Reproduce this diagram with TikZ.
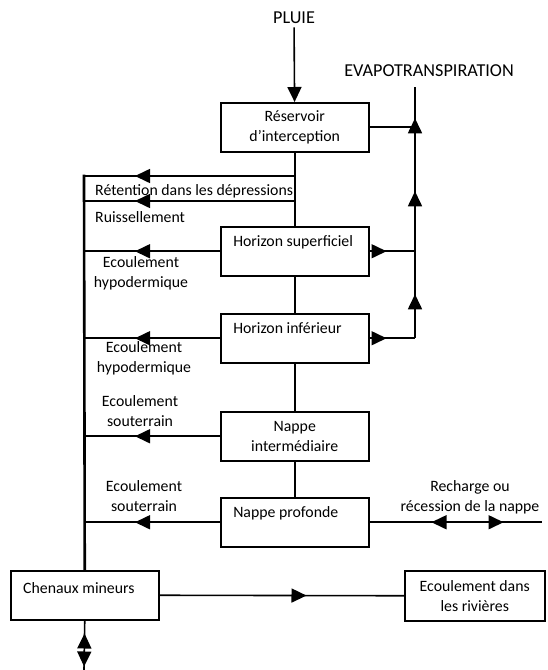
\documentclass[tikz,border=0pt]{standalone}
\usepackage{fontspec}
\setmainfont{Carlito}
\usetikzlibrary{positioning, arrows.meta, decorations.markings}
\tikzset{boite/.style={draw, line width=1.5pt, minimum width=148pt, minimum height=49pt, align=center, inner sep=3pt},
boite_g/.style={boite, align=flush left, text width=123pt, text height=12pt, text depth=22pt},
titre/.style={font=\fontsize{18.2}{22}\selectfont},
trait/.style={line width=1.6pt},
tete/.style={postaction={decorate}, decoration={markings, mark=at position #1 with {\arrow{>}}}},
lbl/.style={align=center, inner sep=0pt}}

\begin{document}
\begin{tikzpicture}[x=1pt, y=-1pt, >={Triangle[length=15pt, width=14pt]}, font=\fontsize{15.8}{19.8}\selectfont]
  \useasboundingbox (0,0) rectangle (547,670);
  % boites
  \node[titre] (pluie) at (294,18) {PLUIE};
  \node[titre] (evap) at (429,71) {EVAPOTRANSPIRATION};
  \node[boite, anchor=north west] (reserv) at (220,102) {Réservoir\\d’interception};
  \node[boite_g, anchor=north west] (hsup) at (220,226) {Horizon superficiel};
  \node[boite_g, anchor=north west] (hinf) at (220,313) {Horizon inférieur};
  \node[boite, anchor=north west] (ninter) at (220,411) {Nappe\\intermédiaire};
  \node[boite_g, anchor=north west] (nprof) at (220,497) {Nappe profonde};
  \node[boite_g, anchor=north west, text height=15pt, text depth=19pt] (chenaux) at (10,570) {Chenaux mineurs};
  \node[boite, anchor=north west, minimum width=140pt, minimum height=50pt] (rivieres) at (404,570) {Ecoulement dans\\les rivières};
  % points
  \coordinate (e_haut) at (415,87);
  \coordinate (e_bas) at (e_haut |- hinf.east);
  \coordinate (e_mid) at (e_haut |- hsup.east);
  \coordinate (e_top) at (e_haut |- reserv.east);
  \coordinate (r1) at (294,176);
  \coordinate (r2) at (294,201);
  \coordinate (g1) at (84,176);
  \coordinate (g2) at (84,201);
  \coordinate (c_bas) at (84,670);
  \path (nprof.east) ++(172,0) coordinate (rech);
  % etiquettes
  \node[lbl, anchor=west] (retention) at (95,191) {Rétention dans les dépressions};
  \node[lbl, anchor=west] (ruiss) at (95,217) {Ruissellement};
  \node[lbl] (hypo1) at (141,273) {Ecoulement\\hypodermique};
  \node[lbl] (hypo2) at (144,358) {Ecoulement\\hypodermique};
  \node[lbl] (sout1) at (140,411) {Ecoulement\\souterrain};
  \node[lbl] (sout2) at (144,496) {Ecoulement\\souterrain};
  \node[lbl] (recharge) at (470,497) {Recharge ou\\récession de la nappe};
  % fleches
  \draw[trait, ->] (pluie) -- (reserv);
  \draw[trait] (reserv) -- (hsup);
  \draw[trait] (hsup) -- (hinf);
  \draw[trait] (hinf) -- (ninter);
  \draw[trait] (ninter) -- (nprof);
  \draw[trait, tete=-51pt] (r1) -- (g1);
  \draw[trait, tete=-51pt] (r2) -- (g2);
  \draw[trait, tete=-51pt] (hsup.west) -- (hsup.west -| g1);
  \draw[trait, tete=-51pt] (hinf.west) -- (hinf.west -| g1);
  \draw[trait, tete=-51pt] (ninter.west) -- (ninter.west -| g1);
  \draw[trait, tete=-51pt] (nprof.west) -- (nprof.west -| g1);
  \draw[line width=2.6pt, line cap=rect] (g1) -- (chenaux.north);
  \draw[trait] (reserv.east) -- (e_top);
  \draw[trait, tete=17pt] (hsup.east) -- (e_mid);
  \draw[trait, tete=17pt] (hinf.east) -- (e_bas);
  \draw[trait, postaction={decorate}, decoration={markings,
    mark=at position 44pt with {\arrow{>}},
    mark=at position 147pt with {\arrow{>}},
    mark=at position 220pt with {\arrow{>}}}] (e_bas) -- (e_haut);
  \draw[trait, postaction={decorate}, decoration={markings,
    mark=at position 62pt with {\arrowreversed{>}},
    mark=at position 134pt with {\arrow{>}}}] (nprof.east) -- (rech);
  \draw[trait, tete=147pt] (chenaux.east) -- (rivieres.west);
  \draw[trait, postaction={decorate}, decoration={markings,
    mark=at position 13pt with {\arrowreversed{>}},
    mark=at position 46pt with {\arrow{>}}}] (chenaux.south) -- (c_bas);
\end{tikzpicture}
\end{document}
